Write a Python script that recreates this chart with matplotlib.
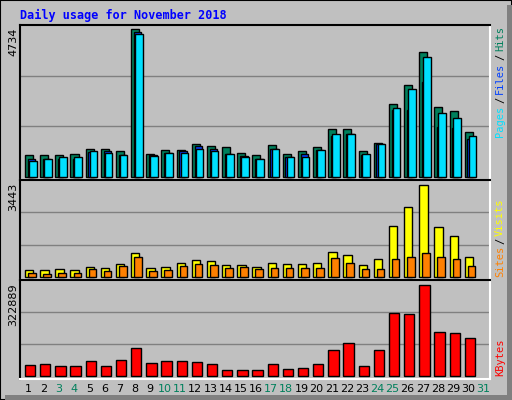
import matplotlib
matplotlib.use("Agg")
import matplotlib.pyplot as plt
from matplotlib.patches import Rectangle
import numpy as np

days = list(range(1, 32))
weekend = [3, 4, 10, 11, 17, 18, 24, 25, 31]
hits = [696, 696, 696, 728, 910, 910, 825, 4734, 750, 878, 878, 1071, 1007, 953, 782, 696,
        1039, 750, 825, 953, 1521, 1521, 846, 1103, 2324, 2935, 3995, 2228, 2099, 1424, 0]
files = [590, 590, 570, 570, 800, 820, 700, 4650, 690, 780, 820, 1000, 910, 750, 660, 590,
         910, 650, 730, 850, 1310, 1370, 700, 1040, 2130, 2140, 3030, 1590, 1560, 1230, 0]
pages = [520, 560, 630, 630, 820, 760, 700, 4590, 660, 780, 760, 880, 840, 750, 630, 590,
         910, 650, 650, 850, 1360, 1390, 720, 1040, 2200, 2800, 3830, 2050, 1900, 1300, 0]
visits = [250, 250, 290, 250, 360, 320, 470, 880, 320, 360, 510, 620, 580, 440, 440, 360,
          510, 470, 470, 510, 920, 810, 440, 660, 1890, 2600, 3443, 1850, 1520, 730, 0]
sites = [160, 120, 160, 160, 290, 210, 400, 730, 210, 250, 400, 470, 440, 320, 360, 290,
         320, 320, 320, 320, 700, 510, 290, 290, 690, 730, 880, 730, 690, 400, 0]
kbytes = [37700, 41200, 34200, 34200, 51800, 34200, 55300, 97700, 44700, 51800, 51800, 48300, 41200,
          20000, 20000, 20000, 41200, 23600, 27100, 41200, 90600, 115300, 34200, 90600, 221300,
          217800, 322889, 157100, 153600, 135900, 0]
max_hits, max_visits, max_kb = 4734, 3443, 322889

BG = "#C0C0C0"
fig = plt.figure(figsize=(5.12, 4.0), dpi=100, facecolor=BG)
W, H = 512, 400
fig.patches.append(Rectangle((0, 0), 1, 1, transform=fig.transFigure, fill=False, ec="black", lw=1.5))
fig.patches.append(Rectangle((1 - 5 / W, 0), 5 / W, 1 - 5 / H, transform=fig.transFigure, fc="#808080", ec="none"))
fig.patches.append(Rectangle((5 / W, 0), 1 - 5 / W, 5 / H, transform=fig.transFigure, fc="#808080", ec="none"))

def mkax(top, bot):
    ax = fig.add_axes([20 / W, 1 - bot / H, 470 / W, (bot - top) / H])
    ax.set_facecolor(BG)
    for s in ["left", "top"]:
        ax.spines[s].set_color("black")
    for s in ["right", "bottom"]:
        ax.spines[s].set_color("white")
    for s in ax.spines.values():
        s.set_linewidth(1.5)
    ax.set_xlim(0.5, 31.5)
    ax.set_xticks([]); ax.set_yticks([])
    return ax

x = np.array(days, dtype=float)
kw = dict(edgecolor="black", linewidth=1.0, align="edge")

ax1 = mkax(25, 180)
ph = 152
top1 = max_hits * ph / 148
ax1.set_ylim(-top1 * 3 / ph, top1)
for g in (top1 / 3, 2 * top1 / 3):
    ax1.axhline(g, color="#808080", lw=1, zorder=0)
ax1.bar(x - 0.17, [h if h else np.nan for h in hits], 0.53, color="#00805C", **kw)
ax1.bar(x + 0.01, [f if f else np.nan for f in files], 0.5, color="#0040FF", **kw)
ax1.bar(x + 0.09, [p if p else np.nan for p in pages], 0.5, color="#00E0FF", **kw)

ax2 = mkax(180, 280)
top2 = max_visits * 97 / 92.3
ax2.set_ylim(-top2 * 3 / 97, top2)
for g in (top2 / 3, 2 * top2 / 3):
    ax2.axhline(g, color="#808080", lw=1, zorder=0)
ax2.bar(x - 0.17, [v if v else np.nan for v in visits], 0.55, color="#FFFF00", **kw)
ax2.bar(x + 0.03, [s if s else np.nan for s in sites], 0.5, color="#FF8000", **kw)

ax3 = mkax(280, 379)
top3 = max_kb * 96 / 91.3
ax3.set_ylim(-top3 * 3 / 96, top3)
for g in (top3 / 3, 2 * top3 / 3):
    ax3.axhline(g, color="#808080", lw=1, zorder=0)
ax3.bar(x - 0.17, [k if k else np.nan for k in kbytes], 0.68, color="#FF0000", **kw)

mono = "DejaVu Sans Mono"
for d in days:
    fig.text((20 + (d - 0.5) * 470 / 31 + 1) / W, 1 - 389 / H, str(d), ha="center", va="center",
             fontsize=8, family="DejaVu Sans", color="#00805C" if d in weekend else "black")

fig.text(20 / W, 1 - 15 / H, "Daily usage for November 2018", color="#0000FF", fontsize=8.5,
         family=mono, fontweight="bold", va="center")
fig.text(13 / W, 1 - 28 / H, str(max_hits), rotation=90, va="top", ha="center", fontsize=8, family="DejaVu Sans")
fig.text(13 / W, 1 - 183 / H, str(max_visits), rotation=90, va="top", ha="center", fontsize=8, family="DejaVu Sans")
fig.text(13 / W, 1 - 283 / H, str(max_kb), rotation=90, va="top", ha="center", fontsize=8, family="DejaVu Sans")

def rlab(y, s, c):
    fig.text(500 / W, 1 - y / H, s, rotation=90, va="bottom", ha="center", fontsize=7.5, family=mono, color=c)

rlab(137, "Pages", "#00E0FF"); rlab(103, "/", "black"); rlab(94, "Files", "#0040FF")
rlab(60, "/", "black"); rlab(51, "Hits", "#00805C")
rlab(277, "Sites", "#FF8000"); rlab(244, "/", "black"); rlab(236, "Visits", "#FFFF00")
rlab(376, "KBytes", "#FF0000")

fig.savefig("out.png", dpi=100, facecolor=BG)
